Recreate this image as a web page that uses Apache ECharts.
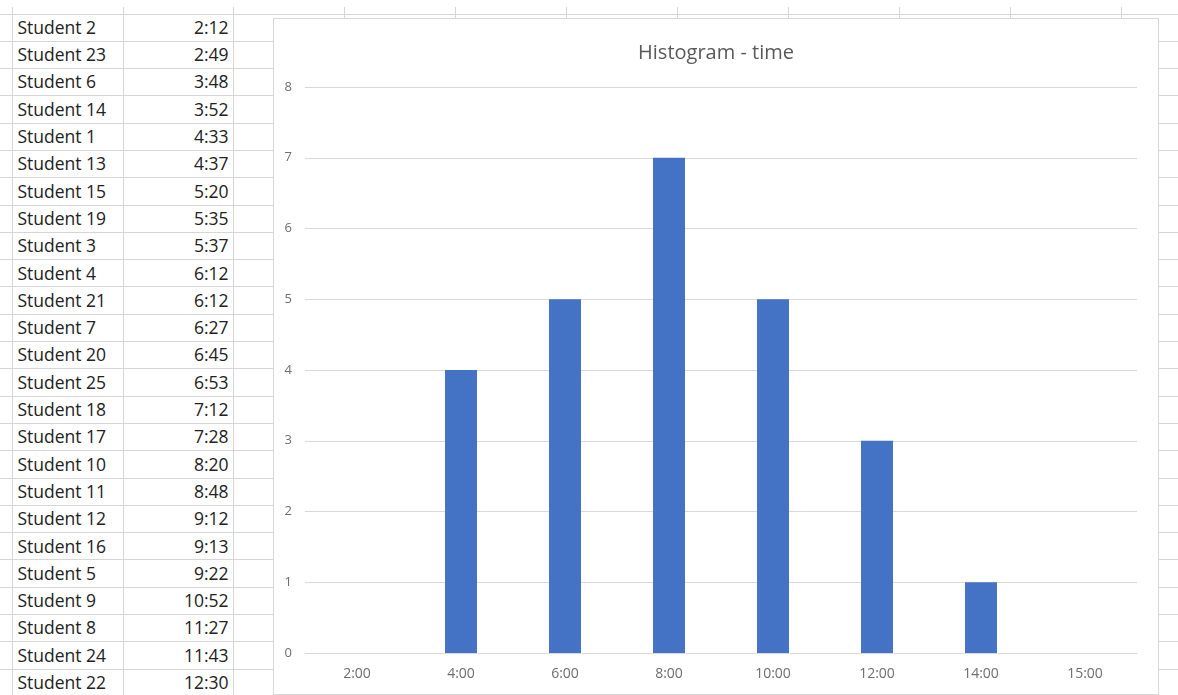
<!DOCTYPE html>
<html>
<head>
<meta charset="utf-8">
<script src="https://cdn.jsdelivr.net/npm/echarts@6/dist/echarts.min.js"></script>
<style>
html,body{margin:0;padding:0;background:#fff;width:1178px;height:695px;overflow:hidden;font-family:"Open Sans",sans-serif;position:relative}
#sheet{position:absolute;left:0;top:7px;border-collapse:collapse;table-layout:fixed;width:1232px}
#sheet td{border:1px solid #d6d6d6;padding:0;box-sizing:border-box;font-size:17.5px;color:#222;white-space:nowrap;overflow:hidden;line-height:1}
#sheet tr.hdr td{border-top:none;height:7px}
#sheet tr.row td{height:27.3px}
#sheet td.c0{border-left:none}
#sheet td.name{text-align:left;padding-left:5px}
#sheet td.time{text-align:right;padding-right:4px}
#chart{position:absolute;left:273px;top:18px;width:884px;height:675px;border:1px solid #d9d9d9;background:#fff;z-index:2}
</style>
</head>
<body>
<table id="sheet"></table>
<div id="chart"></div>
<script>
// Spreadsheet data
const students = ["Student 2","Student 23","Student 6","Student 14","Student 1","Student 13","Student 15","Student 19","Student 3","Student 4","Student 21","Student 7","Student 20","Student 25","Student 18","Student 17","Student 10","Student 11","Student 12","Student 16","Student 5","Student 9","Student 8","Student 24","Student 22"];
const times = ["2:12","2:49","3:48","3:52","4:33","4:37","5:20","5:35","5:37","6:12","6:12","6:27","6:45","6:53","7:12","7:28","8:20","8:48","9:12","9:13","9:22","10:52","11:27","11:43","12:30"];

// Histogram data
const binLabels = ["2:00","4:00","6:00","8:00","10:00","12:00","14:00","15:00"];
const binCounts = [0,4,5,7,5,3,1,0];
const yTicks = [0,1,2,3,4,5,6,7,8];

// Build spreadsheet backdrop
(function(){
  const colWidths = [12,111,110,111,111,111,111,111,111,111,111,111];
  const t = document.getElementById('sheet');
  const cg = document.createElement('colgroup');
  colWidths.forEach(w=>{const c=document.createElement('col');c.style.width=w+'px';cg.appendChild(c);});
  t.appendChild(cg);
  const hdr = document.createElement('tr'); hdr.className='hdr';
  colWidths.forEach((w,i)=>{const td=document.createElement('td'); if(i===0) td.className='c0'; hdr.appendChild(td);});
  t.appendChild(hdr);
  students.forEach((s,r)=>{
    const tr=document.createElement('tr'); tr.className='row';
    colWidths.forEach((w,i)=>{
      const td=document.createElement('td');
      if(i===0) td.className='c0';
      if(i===1){td.className='name'; td.textContent=s;}
      if(i===2){td.className='time'; td.textContent=times[r];}
      tr.appendChild(td);
    });
    t.appendChild(tr);
  });
})();

const chart = echarts.init(document.getElementById('chart'), null, {renderer:'canvas'});
chart.setOption({
  animation:false,
  backgroundColor:'#fff',
  title:{
    text:'Histogram - time',
    left:'center',
    top:19,
    textStyle:{fontFamily:'Open Sans',fontSize:20,fontWeight:'normal',color:'#595959'}
  },
  grid:{left:31,right:21,top:68,bottom:41},
  xAxis:{
    type:'category',
    data:binLabels,
    axisLine:{show:true,lineStyle:{color:'#d9d9d9',width:1}},
    axisTick:{show:false},
    axisLabel:{color:'#6e6e6e',fontSize:14,fontFamily:'Open Sans',margin:14}
  },
  yAxis:{
    type:'value',
    min:yTicks[0],
    max:yTicks[yTicks.length-1],
    interval:1,
    axisLine:{show:false},
    axisTick:{show:false},
    splitLine:{lineStyle:{color:'#d9d9d9',width:1}},
    axisLabel:{color:'#6e6e6e',fontSize:13,fontFamily:'Open Sans',margin:13}
  },
  series:[{
    type:'bar',
    data:binCounts,
    barWidth:32,
    itemStyle:{color:'#4472C4'}
  }]
});
</script>
</body>
</html>
